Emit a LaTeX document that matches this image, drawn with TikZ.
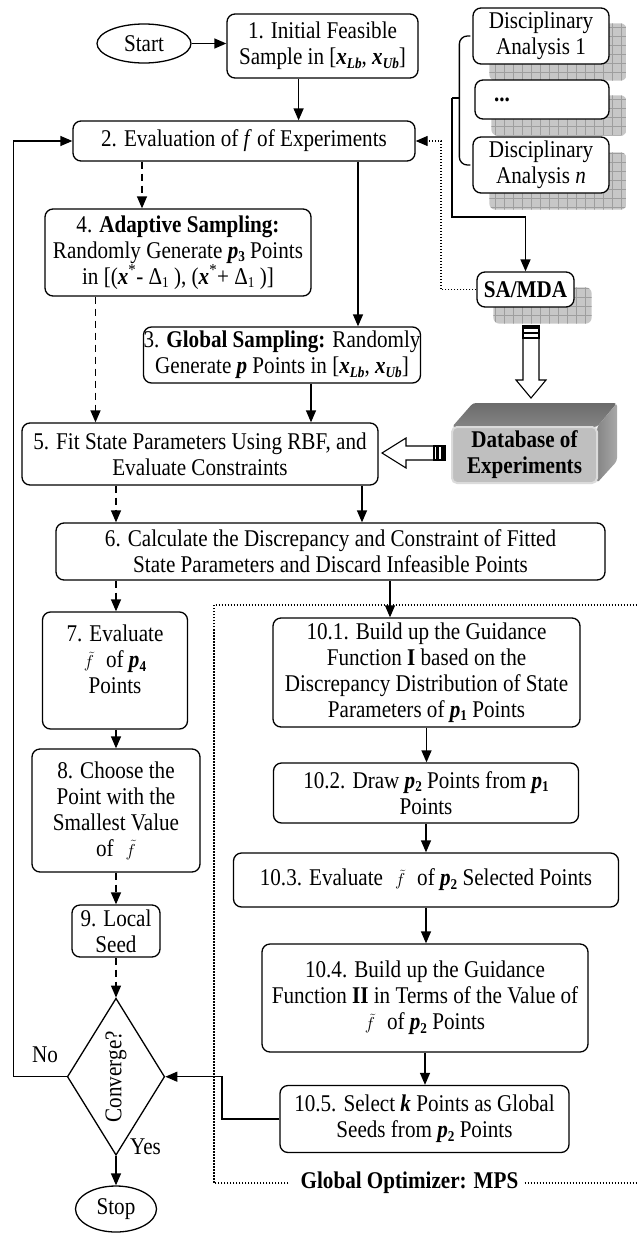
\documentclass[tikz,border=0pt]{standalone}
\usepackage{fontspec}
\usepackage{graphicx}
\setmainfont{Liberation Serif}[FakeStretch=0.88]
\usetikzlibrary{arrows.meta,shapes.geometric}
\pgfdeclarelayer{bg}
\pgfsetlayers{bg,main}
\definecolor{shfill}{gray}{0.78}
\definecolor{shline}{gray}{0.62}
\definecolor{dbfront}{gray}{0.75}
\definecolor{dbborder}{gray}{0.86}
\definecolor{dbtopA}{gray}{0.42}
\definecolor{dbtopB}{gray}{0.52}
\definecolor{dbsideA}{gray}{0.52}
\definecolor{dbsideB}{gray}{0.66}
\newcommand\lsub[1]{\raisebox{-0.3ex}{\fontsize{15}{15}\selectfont #1}}
\newcommand\xbold{\textbf{\textit{x}}}
\newcommand\pbold{\textbf{\textit{p}}}
\newcommand\ftil{{\fontsize{19}{19}\selectfont$\tilde{f}$}}
\newcommand\gshadow[1]{%
  \begin{scope}
    \clip[rounded corners=6pt] ([shift={(17,16)}]#1.north west) rectangle ([shift={(17,16)}]#1.south east);
    \fill[shfill] ([shift={(17,16)}]#1.north west) rectangle ([shift={(17,16)}]#1.south east);
    \draw[shline,line width=0.6pt,step=9pt] ([shift={(17,16)}]#1.north west) grid ([shift={(17,16)}]#1.south east);
  \end{scope}}
\begin{document}
\begin{tikzpicture}[x=1pt,y=-1pt,
  every node/.style={font=\fontsize{24}{26}\selectfont},
  box/.style={draw,line width=1.3pt,rounded corners=8pt,align=center,inner sep=0pt,fill=white},
  term/.style={draw,line width=1.3pt,ellipse,inner sep=0pt,fill=white},
  arr/.style={line width=1.3pt,-{Triangle[length=12pt,width=10pt]}},
  darr/.style={arr,dash pattern=on 7pt off 5pt},
  dotline/.style={line width=1.2pt,dash pattern=on 1.2pt off 1.8pt},
  hollow/.style={draw,line width=1.1pt,fill=white,line join=miter},
  lbl/.style={inner sep=0pt}]
\useasboundingbox (0,0) rectangle (637,1237);

% ---------- nodes ----------
\node[term,minimum width=94pt,minimum height=39pt] (start) at (144,43.5) {Start};
\node[box,minimum width=191pt,minimum height=64pt] (b1) at (322.5,46)
  {1. Initial Feasible\\Sample in [\xbold\lsub{\textbf{\textit{Lb}}}, \xbold\lsub{\textbf{\textit{Ub}}}]};
\node[box,minimum width=342pt,minimum height=40pt] (b2) at (244,141)
  {2. Evaluation of \textit{f} of Experiments};
\node[box,minimum width=266pt,minimum height=87pt] (b4) at (178,252.5)
  {4. \textbf{Adaptive Sampling:}\\Randomly Generate \pbold\lsub{\textbf{3}} Points\\in [(\xbold\textsuperscript{*}- Δ\lsub{1} ), (\xbold\textsuperscript{*}+ Δ\lsub{1} )]};
\node[box,minimum width=277pt,minimum height=56pt] (b3) at (282,355)
  {3. \textbf{Global Sampling:} Randomly\\Generate \pbold{} Points in [\xbold\lsub{\textbf{\textit{Lb}}}, \xbold\lsub{\textbf{\textit{Ub}}}]};
\node[box,minimum width=356pt,minimum height=62pt] (b5) at (200,454)
  {5. Fit State Parameters Using RBF, and\\Evaluate Constraints};
\node[box,minimum width=549pt,minimum height=57pt] (b6) at (330.5,551.5)
  {6. Calculate the Discrepancy and Constraint of Fitted\\State Parameters and Discard Infeasible Points};
\node[box,minimum width=145pt,minimum height=117pt] (b7) at (115,670.5)
  {7. Evaluate\\\ftil\hspace{12pt}of \pbold\lsub{\textbf{4}}\\Points\rule[-22pt]{0pt}{0pt}};
\node[box,minimum width=168pt,minimum height=123pt] (b8) at (116,810.5)
  {8. Choose the\\Point with the\\Smallest Value\\of\hspace{12pt}\ftil};
\node[box,minimum width=88pt,minimum height=52pt] (b9) at (116,931)
  {9. Local\\Seed};
\node[diamond,draw,line width=1.3pt,aspect=0.62,minimum width=97.4pt,minimum height=157pt,inner sep=0pt,fill=white] (conv) at (116,1076.7)
  {\rotatebox{90}{Converge?}};
\node[term,minimum width=81pt,minimum height=46pt] (stop) at (116,1209) {Stop};
\node[lbl] (no) at (45,1055) {No};
\node[lbl] (yes) at (145.5,1147) {Yes};

\node[box,minimum width=307pt,minimum height=109pt] (b101) at (426.5,672.5)
  {10.1. Build up the Guidance\\Function \textbf{I} based on the\\Discrepancy Distribution of State\\Parameters of \pbold\lsub{\textbf{1}} Points};
\node[box,minimum width=305pt,minimum height=60pt] (b102) at (426,793)
  {10.2. Draw \pbold\lsub{\textbf{2}} Points from \pbold\lsub{\textbf{1}}\\Points};
\node[box,minimum width=385pt,minimum height=54pt] (b103) at (426,880)
  {10.3. Evaluate\hspace{12pt}\ftil\hspace{12pt}of \pbold\lsub{\textbf{2}} Selected Points};
\node[box,minimum width=326pt,minimum height=108pt] (b104) at (425,998)
  {10.4. Build up the Guidance\\Function \textbf{II} in Terms of the Value of\\\ftil\hspace{12pt}of \pbold\lsub{\textbf{2}} Points};
\node[box,minimum width=289pt,minimum height=67pt] (b105) at (424.5,1119)
  {10.5. Select \textbf{\textit{k}} Points as Global\\Seeds from \pbold\lsub{\textbf{2}} Points};
\node[lbl,font=\fontsize{24}{26}\selectfont\bfseries] (gl) at (409.5,1183) {Global Optimizer: MPS};

\node[box,minimum width=136pt,minimum height=56pt] (da1) at (541,36) {Disciplinary\\Analysis 1};
\node[box,minimum width=134pt,minimum height=39pt] (dots) at (542,99.5) {\makebox[96pt][l]{\textbf{...}}};
\node[box,minimum width=136pt,minimum height=56pt] (dan) at (541,165) {Disciplinary\\Analysis \textit{n}};
\node[box,minimum width=97pt,minimum height=35pt,font=\fontsize{24}{26}\selectfont\bfseries] (sa) at (525.5,289.5) {SA/MDA};

% database 3D faces (behind the front face)
\coordinate (dbnw) at (452,427);
\coordinate (dbne) at (597,427);
\coordinate (dbse) at (597,483);
\shade[top color=dbtopA,bottom color=dbtopB,rounded corners=3pt] (dbnw) -- ++(21,-24) -- ++(144,0) -- (dbne) -- cycle;
\shade[left color=dbsideA,right color=dbsideB,rounded corners=3pt] (dbne) -- ++(20,-24) -- ++(0,58) -- (dbse) -- cycle;
\node[draw=dbborder,line width=2pt,rounded corners=5pt,fill=dbfront,align=center,inner sep=0pt,minimum width=145pt,minimum height=56pt,font=\fontsize{24}{26}\selectfont\bfseries] (db) at (524.5,455) {Database of\\Experiments};

% ---------- shadows ----------
\begin{pgfonlayer}{bg}
  \gshadow{da1}
  \gshadow{dots}
  \gshadow{dan}
  \gshadow{sa}
\end{pgfonlayer}

% ---------- helper coordinates ----------
\coordinate (c1) at (298.6,0);
\coordinate (c2) at (142,0);
\coordinate (c3) at (358,0);
\coordinate (c4) at (95.5,0);
\coordinate (c5) at (311,0);
\coordinate (c6) at (116,0);
\coordinate (c7) at (362,0);
\coordinate (c8) at (390,0);
\coordinate (fb) at (13.4,0);
\coordinate (dx) at (441,0);
\coordinate (rt) at (222,0);
\coordinate (br) at (452,98);
\coordinate (brk) at (452,217);
\coordinate (fl) at (214,605);
\coordinate (fr) at (637,605);

% ---------- connectors ----------
\draw[arr] (start.east) -- (start.east -| b1.west);
\draw[arr] (b1.south -| c1) -- (b2.north -| c1);
\draw[darr] (b2.south -| c2) -- (b4.north -| c2);
\draw[arr] (b2.south -| c3) -- (b3.north -| c3);
\draw[darr] (b4.south -| c4) -- (b5.north -| c4);
\draw[arr] (b3.south -| c5) -- (b5.north -| c5);
\draw[darr] (b5.south -| c6) -- (b6.north -| c6);
\draw[arr] (b5.south -| c7) -- (b6.north -| c7);
\draw[darr] (b6.south -| c6) -- (b7.north -| c6);
\draw[arr] (b6.south -| c8) -- (b101.north -| c8);
\draw[darr] (b7.south -| c6) -- (b8.north -| c6);
\draw[darr] (b8.south -| c6) -- (b9.north -| c6);
\draw[darr] (b9.south) -- (conv.north);
\draw[arr] (conv.south) -- (stop.north);
\draw[arr] (conv.west) -- (conv.west -| fb) |- (b2.west);
\draw[arr] (b101.south) -- (b101.south |- b102.north);
\draw[arr] (b102.south) -- (b102.south |- b103.north);
\draw[arr] (b103.south) -- (b103.south |- b104.north);
\draw[arr] (b104.south) -- (b104.south |- b105.north);
\draw[arr] (b105.west) -- (b105.west -| rt) |- (conv.east);
\draw[dotline,-{Triangle[length=12pt,width=10pt]}] (sa.west) -- (sa.west -| dx) |- (b2.east);

% bracket from disciplinary analyses
\draw[line width=1.3pt,rounded corners=8pt] ([xshift=-2pt]da1.west) -- ++(-11,0) |- ([xshift=-2pt]dan.west);
\draw[line width=1.3pt] (br) -- ++(8,0);
\draw[arr] (br) -- (brk) -| (sa.north);

% hollow arrow SA/MDA -> database
\draw[hollow] (523,338) -- (523,380) -- (516,380) -- (531,398) -- (546,380) -- (539,380) -- (539,338) -- cycle;
\draw[hollow] (523,326) rectangle (539,338);
\fill (523,326) rectangle (539,328.5);
\fill (523,331.5) rectangle (539,334);

% hollow arrow database -> box 5
\draw[hollow] (382,453) -- (406,438) -- (406,446) -- (434,446) -- (434,460) -- (406,460) -- (406,468) -- cycle;
\draw[hollow] (434,446) rectangle (445,460);
\fill (436,446) rectangle (438.5,460);
\fill (441,446) rectangle (443.5,460);

% global optimizer frame
\draw[dotline] ([xshift=-12pt]gl.west) -| (fl) -- (fr);
\draw[dotline] ([xshift=6pt]gl.east) -- (gl.east -| fr);
\end{tikzpicture}
\end{document}
